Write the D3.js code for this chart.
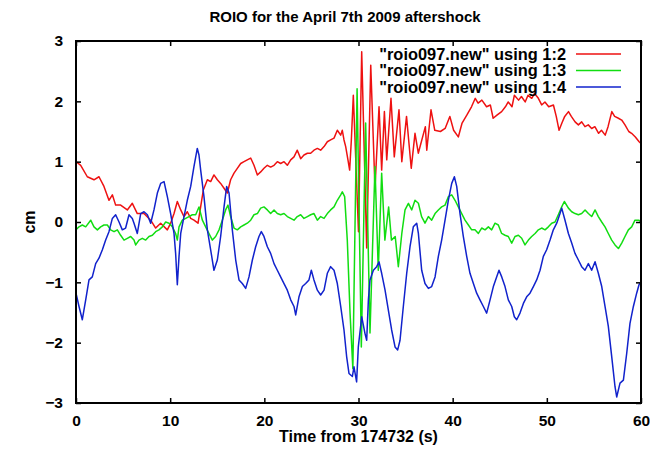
<!DOCTYPE html>
<html>
<head>
<meta charset="utf-8">
<script src="https://cdn.jsdelivr.net/npm/d3@7"></script>
<style>
  html, body { margin: 0; padding: 0; background: #fff; }
  svg { display: block; }
  text { font-family: "Liberation Sans", Arial, Helvetica, sans-serif; font-weight: bold; fill: #000; }
</style>
</head>
<body>
<svg id="chart" width="650" height="455"></svg>
<script>
// ROIO station displacement, three components (columns 2, 3 and 4 of roio097.new)
const xTicks = [0, 10, 20, 30, 40, 50, 60];
const yTicks = [-3, -2, -1, 0, 1, 2, 3];
const seriesNames = ['"roio097.new" using 1:2', '"roio097.new" using 1:3', '"roio097.new" using 1:4'];
const seriesColors = ["#ee1111", "#11dd11", "#1122cc"];

const col2Time = [0.00,0.50,1.20,1.91,2.44,2.97,3.50,3.86,4.21,4.74,5.45,5.98,6.51,7.22,7.93,8.46,8.99,9.70,10.05,10.41,10.76,11.12,11.47,11.82,12.18,12.53,12.96,13.52,13.95,14.30,14.65,15.01,15.36,15.72,16.07,16.42,16.78,17.13,17.49,17.84,18.19,18.55,18.90,19.26,19.61,19.96,20.32,20.67,21.03,21.38,21.73,22.09,22.44,22.80,23.15,23.50,23.86,24.21,24.57,24.92,25.27,25.63,25.98,26.34,26.69,27.04,27.40,27.75,28.11,28.28,28.46,28.64,28.88,29.06,29.24,29.45,30.00,30.34,30.87,31.30,31.75,32.18,32.46,32.75,33.00,33.45,33.80,34.30,34.60,35.10,35.60,36.00,36.35,37.10,37.25,37.70,38.10,38.70,39.20,39.70,40.10,40.60,41.00,41.50,42.00,42.40,42.70,43.10,43.60,44.00,44.30,44.70,45.20,45.60,45.90,46.30,46.55,47.00,47.30,47.70,48.00,48.40,48.70,49.10,49.45,49.80,50.20,50.70,51.00,51.30,51.60,51.90,52.30,52.60,53.00,53.35,53.70,54.05,54.40,54.76,55.10,55.50,55.80,56.20,56.50,56.90,57.20,57.60,57.95,58.30,58.70,59.00,59.40,59.80,60.00];
const col2Cm = [1.00,0.94,0.75,0.70,0.75,0.59,0.36,0.45,0.28,0.28,0.20,0.31,0.14,0.14,0.03,-0.10,-0.02,-0.13,-0.02,0.14,0.34,0.20,0.09,0.17,0.06,0.03,-0.02,0.53,0.70,0.67,0.78,0.70,0.64,0.56,0.48,0.70,0.81,0.89,0.97,1.00,1.03,1.06,0.94,0.78,0.83,0.89,0.94,0.91,0.94,1.00,0.97,1.00,0.94,1.03,1.08,1.19,1.05,1.11,1.14,1.14,1.19,1.22,1.19,1.25,1.33,1.36,1.39,1.52,1.44,1.52,1.36,1.25,1.03,0.86,1.36,2.10,-0.16,2.82,-0.43,2.60,0.56,1.91,0.86,1.83,1.03,2.05,1.08,1.86,1.00,1.75,0.89,1.47,1.14,1.58,1.19,1.86,1.52,1.50,1.55,1.75,1.52,1.41,1.64,1.77,1.91,2.05,1.97,2.02,1.91,1.94,1.72,1.77,1.83,1.91,1.99,1.91,2.10,2.02,2.08,1.99,2.10,2.05,2.13,2.05,1.94,1.99,1.91,1.94,1.75,1.52,1.64,1.75,1.83,1.75,1.66,1.61,1.66,1.58,1.61,1.55,1.58,1.47,1.52,1.44,1.58,1.83,1.75,1.72,1.69,1.61,1.50,1.47,1.41,1.33,1.30];

const col3Time = [0.00,0.32,0.67,1.03,1.56,1.91,2.27,2.62,2.97,3.33,3.68,4.04,4.39,4.74,5.10,5.45,5.81,6.16,6.34,6.69,7.04,7.40,7.75,8.11,8.46,8.81,9.17,9.52,9.88,10.23,10.58,10.76,10.94,11.29,11.65,12.00,12.35,12.71,13.06,13.42,13.77,14.12,14.48,14.83,15.19,15.54,15.89,16.14,16.42,16.78,17.13,17.49,17.84,18.19,18.55,18.90,19.26,19.61,19.96,20.32,20.67,21.03,21.38,21.73,22.09,22.44,22.80,23.15,23.50,23.86,24.21,24.57,24.92,25.27,25.63,25.98,26.34,26.69,27.04,27.40,27.75,28.11,28.28,28.53,28.81,29.10,29.40,29.85,30.30,30.76,31.22,31.75,32.10,32.46,32.80,33.20,33.50,33.90,34.23,34.60,34.94,35.30,35.65,36.00,36.36,36.70,37.06,37.42,37.77,38.13,38.48,38.83,39.19,39.54,39.90,40.25,40.60,40.96,41.31,41.67,42.02,42.37,42.73,43.08,43.44,43.79,44.14,44.50,44.85,45.20,45.56,45.91,46.27,46.62,46.98,47.33,47.68,48.04,48.39,48.75,49.10,49.45,49.81,50.16,50.52,50.87,51.22,51.58,51.86,52.29,52.64,53.00,53.35,53.70,54.06,54.41,54.76,55.12,55.47,55.83,56.18,56.53,56.89,57.24,57.60,57.95,58.30,58.66,59.01,59.36,59.79,60.00];
const col3Cm = [-0.13,-0.08,-0.05,-0.08,0.03,-0.08,-0.13,-0.08,-0.05,-0.05,-0.13,-0.16,-0.13,-0.22,-0.30,-0.27,-0.24,-0.30,-0.38,-0.30,-0.27,-0.30,-0.24,-0.22,-0.16,-0.13,-0.08,0.00,-0.02,-0.08,-0.19,-0.30,-0.08,0.03,0.06,0.09,0.12,0.12,0.25,0.03,-0.08,-0.19,-0.30,-0.24,-0.13,0.03,0.20,0.28,0.09,-0.10,-0.13,-0.08,-0.05,-0.02,0.03,0.12,0.14,0.23,0.25,0.20,0.14,0.20,0.14,0.12,0.14,0.09,0.06,0.03,0.09,0.12,0.06,0.09,0.12,0.14,0.03,0.09,0.06,0.14,0.20,0.25,0.36,0.45,0.50,0.42,-0.30,-1.50,-2.43,2.21,-2.07,1.64,-1.84,0.92,-0.80,0.81,-0.30,0.25,-0.30,-0.24,-0.74,-0.19,0.20,0.31,0.20,0.36,0.31,0.09,-0.02,0.09,0.03,0.14,0.20,0.25,0.28,0.42,0.45,0.36,0.25,0.14,0.03,-0.05,-0.13,-0.13,-0.19,-0.10,-0.13,-0.08,-0.13,-0.02,-0.05,-0.19,-0.22,-0.24,-0.35,-0.24,-0.22,-0.27,-0.38,-0.30,-0.24,-0.19,-0.13,-0.10,-0.13,-0.08,-0.02,0.00,0.12,0.25,0.34,0.23,0.17,0.14,0.12,0.14,0.20,0.14,0.09,0.20,0.09,0.00,-0.08,-0.19,-0.30,-0.38,-0.44,-0.35,-0.24,-0.13,-0.08,0.03,0.03,0.00];

const col4Time = [0.00,0.32,0.67,1.03,1.38,1.73,2.09,2.44,2.80,3.15,3.50,3.86,4.21,4.57,4.92,5.27,5.63,5.98,6.16,6.51,6.87,7.22,7.58,7.93,8.28,8.64,8.99,9.35,9.70,10.05,10.41,10.58,10.76,10.94,11.12,11.47,11.82,12.18,12.53,12.88,13.06,13.24,13.59,13.95,14.30,14.65,15.01,15.36,15.72,16.00,16.25,16.60,16.96,17.31,17.66,18.02,18.37,18.73,19.08,19.43,19.68,19.96,20.32,20.67,21.03,21.38,21.73,22.09,22.44,22.80,23.15,23.33,23.68,24.04,24.39,24.74,24.99,25.27,25.63,25.98,26.34,26.69,27.04,27.40,27.75,28.11,28.46,28.74,28.99,29.35,29.52,29.80,29.98,30.34,30.69,30.87,31.05,31.22,31.58,31.93,32.18,32.46,32.82,33.17,33.52,33.88,34.16,34.41,34.76,35.12,35.47,35.82,36.18,36.36,36.71,37.06,37.42,37.77,38.13,38.48,38.83,39.19,39.54,39.90,40.18,40.43,40.78,41.13,41.49,41.84,42.20,42.55,42.90,43.26,43.61,43.97,44.32,44.67,44.92,45.21,45.56,45.91,46.27,46.55,46.80,47.15,47.51,47.86,48.21,48.57,48.92,49.28,49.63,49.98,50.34,50.69,51.05,51.40,51.58,51.93,52.29,52.64,52.99,53.35,53.70,54.05,54.41,54.76,55.12,55.47,55.83,56.18,56.53,56.89,57.24,57.42,57.77,58.13,58.48,58.83,59.19,59.54,59.79,60.00];
const col4Cm = [-1.18,-1.40,-1.62,-1.29,-0.96,-0.91,-0.69,-0.60,-0.46,-0.30,-0.16,0.06,0.12,0.00,-0.13,-0.10,0.12,0.06,-0.02,-0.19,0.14,0.17,0.12,-0.02,0.20,0.48,0.64,0.67,0.42,0.14,-0.19,-0.52,-1.04,-0.57,-0.19,0.09,0.36,0.59,0.92,1.22,1.11,0.86,0.42,-0.13,-0.46,-0.80,-0.63,-0.24,0.25,0.59,0.48,-0.13,-0.63,-0.96,-1.02,-1.10,-0.91,-0.63,-0.41,-0.24,-0.16,-0.24,-0.41,-0.52,-0.69,-0.80,-0.91,-1.02,-1.13,-1.29,-1.40,-1.54,-1.24,-1.07,-1.02,-0.96,-0.80,-0.96,-1.13,-1.21,-1.13,-0.85,-0.74,-0.80,-1.02,-1.40,-1.79,-2.23,-2.51,-2.56,-2.40,-2.65,-2.07,-1.57,-1.85,-1.96,-1.29,-0.96,-0.80,-0.74,-0.66,-0.85,-1.13,-1.46,-1.79,-2.07,-2.12,-1.96,-1.40,-0.85,-0.41,-0.08,-0.02,-0.19,-0.80,-1.02,-1.10,-1.07,-0.91,-0.57,-0.30,0.03,0.36,0.64,0.75,0.59,0.14,-0.24,-0.57,-0.85,-1.02,-1.18,-1.29,-1.40,-1.51,-1.29,-1.07,-0.91,-0.80,-0.91,-1.07,-1.29,-1.40,-1.57,-1.62,-1.51,-1.35,-1.24,-1.18,-1.07,-0.96,-0.80,-0.57,-0.46,-0.30,-0.13,-0.02,0.14,0.23,0.03,-0.19,-0.35,-0.52,-0.63,-0.74,-0.80,-0.69,-0.80,-0.66,-0.85,-1.07,-1.40,-1.73,-2.23,-2.73,-2.90,-2.67,-2.62,-2.18,-1.68,-1.40,-1.18,-1.04,-1.00];

const series = [
  { time: col2Time, cm: col2Cm },
  { time: col3Time, cm: col3Cm },
  { time: col4Time, cm: col4Cm }
];

const svg = d3.select("#chart");
const plot = { left: 76, right: 641, top: 41, bottom: 403 };

const x = d3.scaleLinear().domain([0, 60]).range([plot.left, plot.right]);
const y = d3.scaleLinear().domain([-3, 3]).range([plot.bottom, plot.top]);

// data lines, clipped to the frame
svg.append("clipPath").attr("id", "frame-clip")
  .append("rect")
  .attr("x", plot.left).attr("y", plot.top)
  .attr("width", plot.right - plot.left).attr("height", plot.bottom - plot.top);

const line = d3.line().x(d => x(d[0])).y(d => y(d[1]));
const lines = svg.append("g").attr("clip-path", "url(#frame-clip)");
series.forEach((s, i) => {
  lines.append("path")
    .datum(s.time.map((t, k) => [t, s.cm[k]]))
    .attr("d", line)
    .attr("fill", "none")
    .attr("stroke", seriesColors[i])
    .attr("stroke-width", 1.5)
    .attr("stroke-linejoin", "round");
});

// axes with inward ticks on all four sides
const tickLen = 5;
function styleAxis(g, showLabels) {
  g.select(".domain").remove();
  g.selectAll(".tick line").attr("stroke", "#000").attr("stroke-width", 1.5);
  g.selectAll(".tick text").style("font-size", "15.5px").attr("fill", "#000");
  if (!showLabels) g.selectAll(".tick text").remove();
}

svg.append("g")
  .attr("transform", `translate(0,${plot.bottom})`)
  .call(d3.axisBottom(x).tickValues(xTicks).tickSizeInner(-tickLen).tickSizeOuter(0).tickPadding(12).tickFormat(d3.format("d")))
  .call(g => styleAxis(g, true));
svg.append("g")
  .attr("transform", `translate(0,${plot.top})`)
  .call(d3.axisTop(x).tickValues(xTicks).tickSizeInner(-tickLen).tickSizeOuter(0))
  .call(g => styleAxis(g, false));
svg.append("g")
  .attr("transform", `translate(${plot.left},0)`)
  .call(d3.axisLeft(y).tickValues(yTicks).tickSizeInner(-tickLen).tickSizeOuter(0).tickPadding(13).tickFormat(d3.format("d")))
  .call(g => styleAxis(g, true));
svg.append("g")
  .attr("transform", `translate(${plot.right},0)`)
  .call(d3.axisRight(y).tickValues(yTicks).tickSizeInner(-tickLen).tickSizeOuter(0))
  .call(g => styleAxis(g, false));

// frame
svg.append("rect")
  .attr("x", plot.left).attr("y", plot.top)
  .attr("width", plot.right - plot.left).attr("height", plot.bottom - plot.top)
  .attr("fill", "none").attr("stroke", "#000").attr("stroke-width", 2);

// legend (top right, inside the frame)
const legend = svg.append("g");
seriesNames.forEach((name, i) => {
  const ly = 54 + i * 16.5;
  legend.append("text")
    .attr("x", 566).attr("y", ly + 5.5)
    .attr("text-anchor", "end")
    .style("font-size", "16.4px")
    .text(name);
  legend.append("line")
    .attr("x1", 576).attr("x2", 621).attr("y1", ly).attr("y2", ly)
    .attr("stroke", seriesColors[i]).attr("stroke-width", 1.3);
});

// titles
svg.append("text")
  .attr("x", 345).attr("y", 22)
  .attr("text-anchor", "middle")
  .style("font-size", "15px")
  .text("ROIO for the April 7th 2009 aftershock");

svg.append("text")
  .attr("x", (plot.left + plot.right) / 2).attr("y", 442)
  .attr("text-anchor", "middle")
  .style("font-size", "16px")
  .text("Time from 174732 (s)");

svg.append("text")
  .attr("transform", `translate(35,${y(0)}) rotate(-90)`)
  .attr("text-anchor", "middle")
  .style("font-size", "16px")
  .text("cm");
</script>
</body>
</html>
